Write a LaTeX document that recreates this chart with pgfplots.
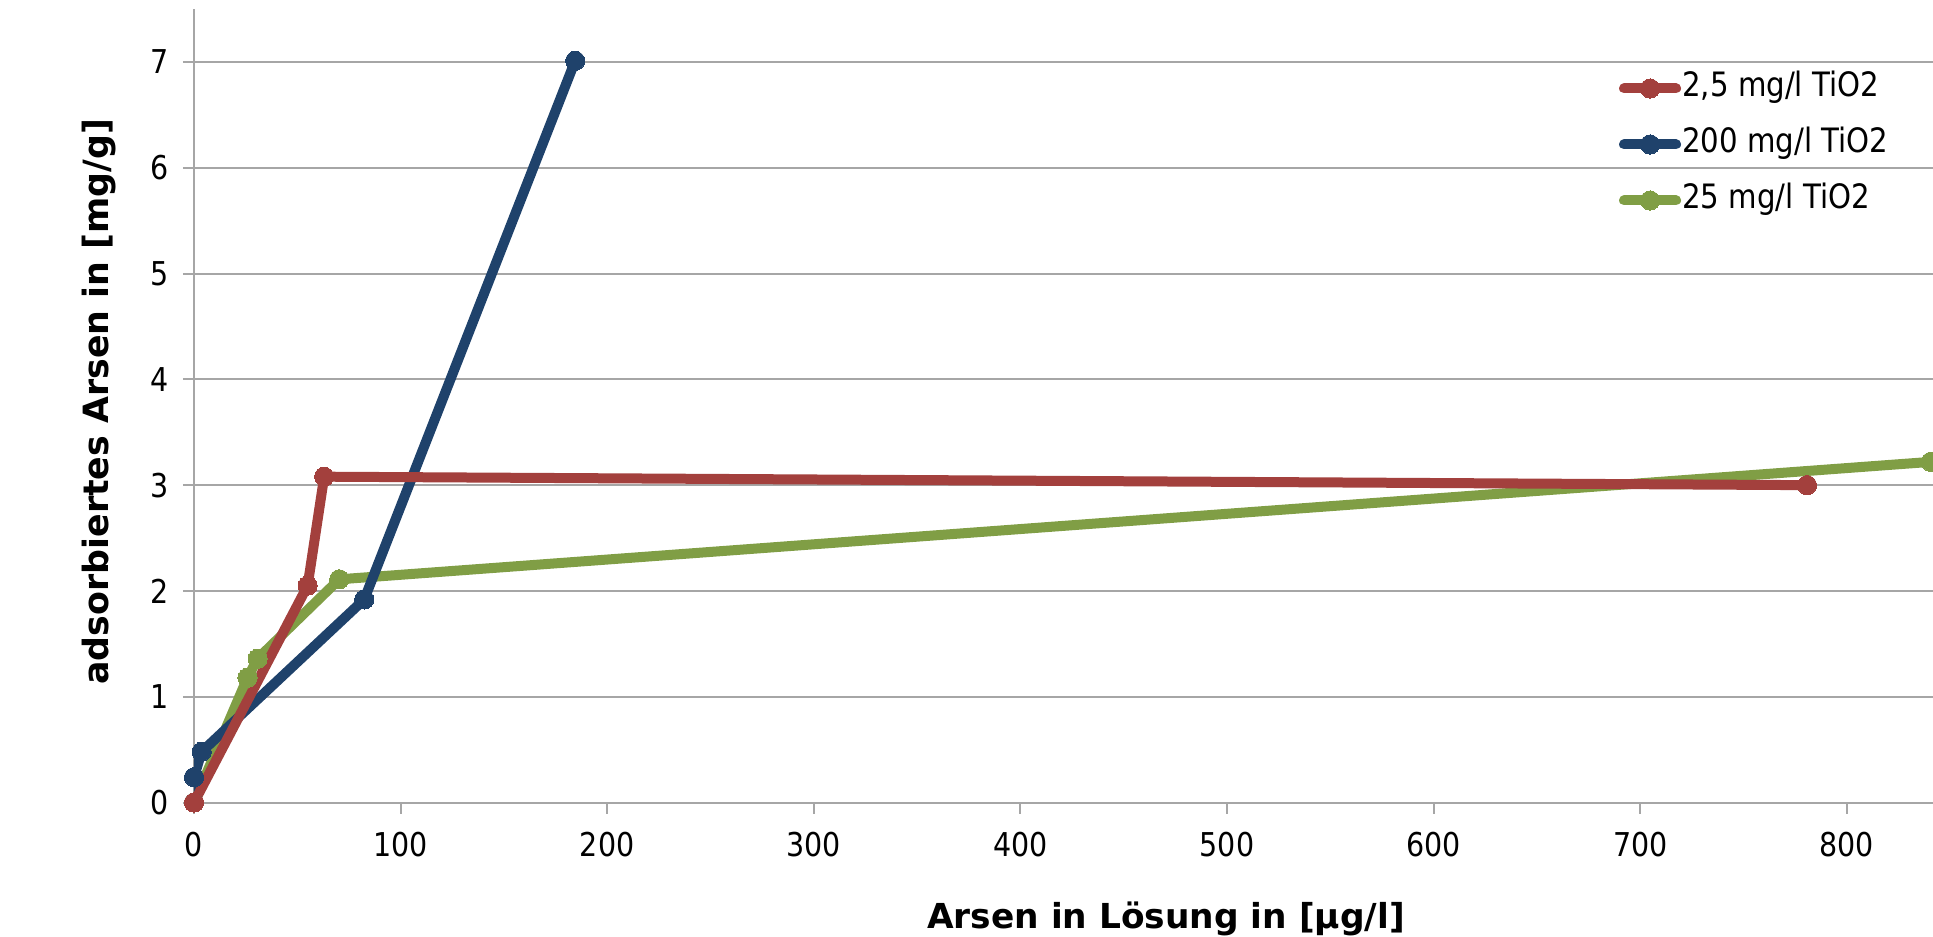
\documentclass[border=0pt]{standalone}
\usepackage{pgfplots}
\pgfplotsset{compat=1.18}
\usepackage{fontspec}
\setmainfont{DejaVu Sans}[FakeStretch=0.87]
\newfontfamily\labfont{DejaVu Sans Bold}
\definecolor{cred}{HTML}{A3403D}
\definecolor{cblue}{HTML}{1F426B}
\definecolor{cgreen}{HTML}{809E45}
\definecolor{cgrid}{HTML}{A6A6A6}
\begin{document}
\begin{tikzpicture}
\begin{axis}[
  scale only axis,
  width=434.75pt, height=198.4pt,
  xmin=0, xmax=841.7, ymin=0, ymax=7.5,
  axis x line=bottom, axis y line=left,
  axis line style={-, draw=cgrid, line width=0.5pt},
  xtick={0,100,...,800}, ytick={0,1,...,7},
  tick align=outside, major tick length=2.75pt,
  tick style={draw=cgrid, line width=0.5pt},
  ymajorgrids, major grid style={draw=cgrid, line width=0.5pt},
  /pgf/number format/assume math mode=true,
  ticklabel style={font=\fontsize{8.2}{9.8}\selectfont},
  xticklabel style={yshift=-1.1pt},
  xlabel={Arsen in Lösung in [µg/l]},
  ylabel={adsorbiertes Arsen in [mg/g]},
  xlabel style={at={(axis description cs:0.559,-0.1470)}, anchor=center, font=\labfont\fontsize{8.6}{10}\selectfont},
  ylabel style={at={(axis description cs:-0.0546,0.505)}, anchor=center, rotate=0, font=\labfont\fontsize{8.7}{10}\selectfont},
  reverse legend,
  legend style={at={(axis description cs:0.819,0.921)}, anchor=north west, draw=none, fill=none, inner sep=0pt,
    font=\fontsize{8.4}{10}\selectfont, row sep=6pt, column sep=0pt,
    nodes={inner xsep=0.3pt, inner ysep=0pt, text height=6pt, text depth=2pt, anchor=west}},
  legend cell align=left,
  legend image code/.code={\draw[mark repeat=2,mark phase=2, line cap=round] plot coordinates {(0pt,0pt)(6.5pt,0pt)(13pt,0pt)};},
  every axis plot/.append style={line width=2.5pt, mark=*, mark size=2.4pt, line join=round, line cap=round},
]
\addplot[cgreen, mark options={fill=cgreen, draw=cgreen, line width=0pt}] coordinates {(0,0) (25.9,1.18) (30.8,1.36) (70.3,2.11) (840.6,3.22)};
\addlegendentry{25 mg/l TiO2}
\addplot[cblue, mark options={fill=cblue, draw=cblue, line width=0pt}] coordinates {(0,0) (0,0.24) (3.7,0.48) (82.4,1.92) (184.5,7.01)};
\addlegendentry{200 mg/l TiO2}
\addplot[cred, mark options={fill=cred, draw=cred, line width=0pt}] coordinates {(0,0) (55,2.05) (63,3.08) (780.7,3.00)};
\addlegendentry{2,5 mg/l TiO2}
\end{axis}
\pgfresetboundingbox
\path (current axis.south west) ++(-48.5pt,-33.6pt) coordinate (bl);
\path (current axis.north east) ++(0pt,2.25pt) coordinate (tr);
\useasboundingbox (bl) rectangle (tr);
\end{tikzpicture}
\end{document}
